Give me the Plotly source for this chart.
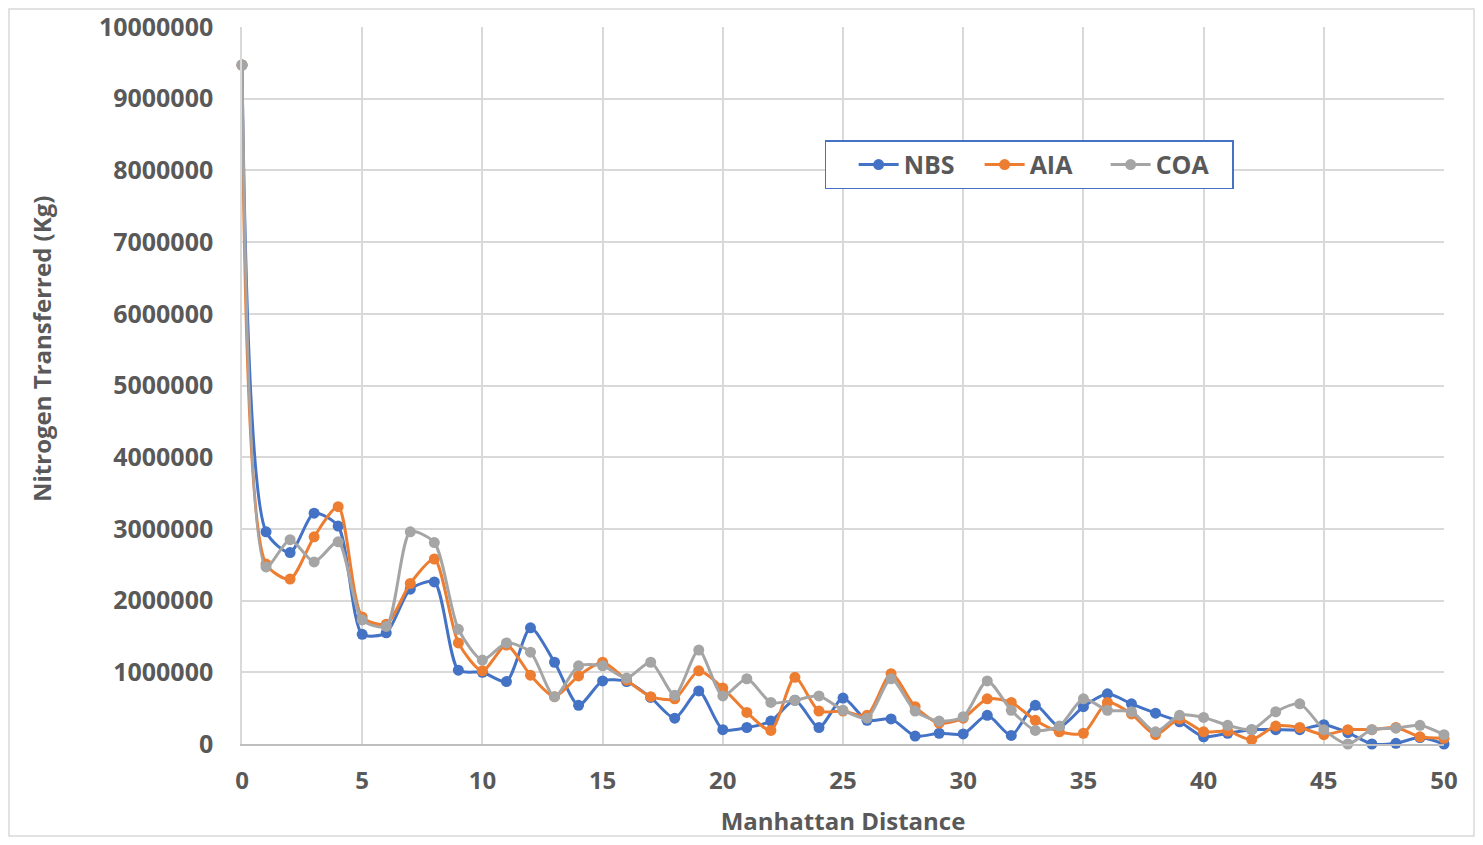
import plotly.graph_objects as go

distance = list(range(0, 51))

nbs = [9470000, 2960000, 2670000, 3220000, 3040000, 1530000, 1550000, 2160000, 2260000, 1030000,
       1000000, 870000, 1620000, 1140000, 540000, 880000, 870000, 650000, 360000, 740000,
       200000, 230000, 320000, 610000, 230000, 640000, 330000, 350000, 110000, 150000,
       140000, 400000, 120000, 540000, 240000, 520000, 700000, 560000, 430000, 310000,
       100000, 150000, 200000, 200000, 200000, 270000, 160000, 0, 10000, 90000,
       0]
aia = [9470000, 2510000, 2300000, 2890000, 3310000, 1770000, 1670000, 2240000, 2580000, 1410000,
       1020000, 1380000, 960000, 660000, 950000, 1140000, 890000, 660000, 630000, 1020000,
       780000, 440000, 190000, 930000, 460000, 460000, 400000, 980000, 520000, 290000,
       360000, 630000, 580000, 330000, 170000, 150000, 580000, 420000, 130000, 350000,
       170000, 180000, 60000, 250000, 230000, 130000, 200000, 200000, 230000, 100000,
       80000]
coa = [9470000, 2470000, 2850000, 2540000, 2820000, 1730000, 1640000, 2960000, 2810000, 1600000,
       1170000, 1410000, 1280000, 660000, 1090000, 1090000, 920000, 1140000, 680000, 1310000,
       670000, 910000, 580000, 610000, 670000, 470000, 360000, 910000, 460000, 320000,
       380000, 880000, 470000, 190000, 250000, 630000, 470000, 450000, 170000, 400000,
       370000, 260000, 200000, 450000, 560000, 200000, 0, 200000, 220000, 260000,
       130000]

series = [("NBS", nbs, "#4472C4"), ("AIA", aia, "#ED7D31"), ("COA", coa, "#A5A5A5")]

FONT = "Open Sans"
TEXT_COLOR = "#595959"

# page body has an 8px margin, so the figure is a bit smaller than the window
fig = go.Figure()
for name, values, color in series:
    fig.add_trace(go.Scatter(
        x=distance, y=values, name=name, mode="lines+markers",
        line=dict(color=color, width=3, shape="spline", smoothing=0.7),
        marker=dict(color=color, size=11),
        cliponaxis=False,
    ))

fig.update_layout(
    width=1467, height=829,
    margin=dict(l=234, r=31, t=19, b=93),
    plot_bgcolor="white", paper_bgcolor="white",
    font=dict(family=FONT, color=TEXT_COLOR),
    legend=dict(
        orientation="h", x=0.485, y=0.842, xanchor="left", yanchor="top",
        font=dict(size=25, weight="bold", color=TEXT_COLOR),
        title=dict(text="\u00a0\u00a0\u00a0", side="left", font=dict(size=22)),
        bordercolor="#4472C4", borderwidth=1.5, bgcolor="white",
        entrywidth=71, itemwidth=40,
    ),
    shapes=[dict(type="rect", xref="paper", yref="paper",
                 x0=(9 - 242) / 1202, x1=(1474 - 242) / 1202,
                 y0=(744 - 836) / 717, y1=(744 - 9) / 717,
                 line=dict(color="#d9d9d9", width=1.5))],
    # y title sits a little above the middle, as in the original
    annotations=[dict(text="Nitrogen Transferred (Kg)", textangle=-90,
                      xref="paper", yref="paper", x=(42 - 242) / 1202, y=(744 - 349) / 717,
                      xanchor="center", yanchor="middle", showarrow=False,
                      font=dict(size=24, weight="bold", color=TEXT_COLOR))],
)

fig.update_xaxes(
    range=[0, 50], dtick=5, tick0=0, automargin=False,
    showgrid=True, gridcolor="#d9d9d9", gridwidth=1.5,
    showline=True, linecolor="#bfbfbf", linewidth=1.5,
    zeroline=False, ticks="", ticklabelstandoff=14,
    tickfont=dict(size=24, weight="bold", color=TEXT_COLOR),
    title=dict(text="Manhattan Distance", font=dict(size=24, weight="bold", color=TEXT_COLOR), standoff=22),
)
fig.update_yaxes(
    range=[0, 10000000], dtick=1000000, tickformat="d", automargin=False,
    showgrid=True, gridcolor="#d9d9d9", gridwidth=1.5,
    showline=True, linecolor="#d9d9d9", linewidth=1.5,
    zeroline=False, ticks="", ticklabelstandoff=22,
    tickfont=dict(size=25, weight="bold", color=TEXT_COLOR),
)

fig.write_html("out.html")
